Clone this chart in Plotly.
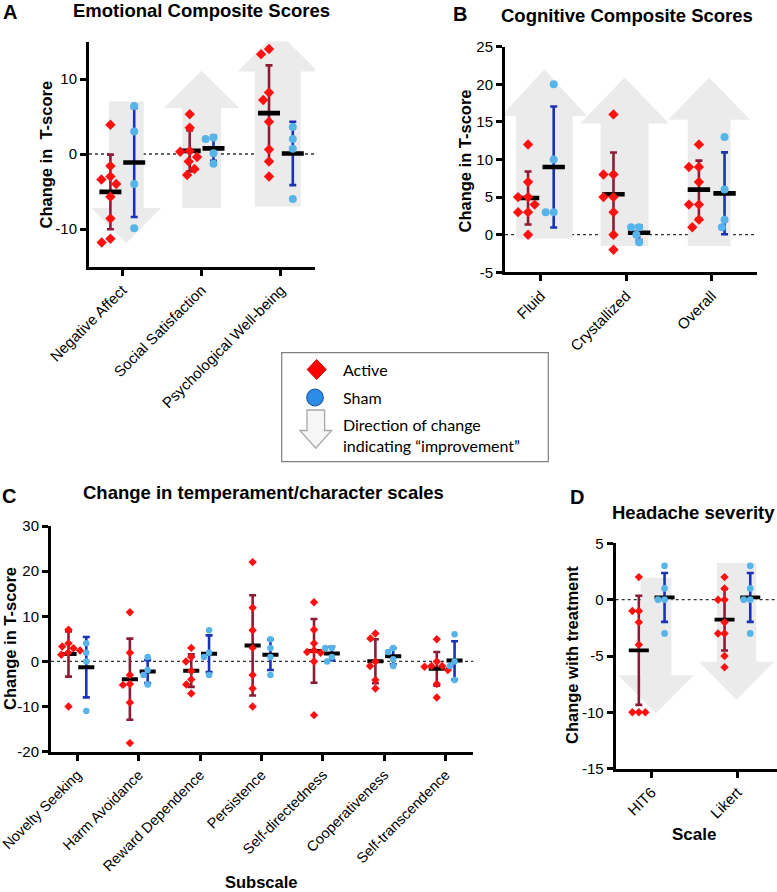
import math
import numpy as np
import plotly.graph_objects as go

W, H = 777, 892

# ---------------- data ----------------
cats_A = ["Negative Affect", "Social Satisfaction", "Psychological Well-being"]
active_A = [
    [3.9, -1.6, -3.0, -3.4, -4.0, -5.7, -8.6, -11.3, -11.8],
    [5.3, 3.5, 0.4, 0.3, -0.4, -1.0, -2.0, -2.8],
    [14.0, 13.3, 8.2, 7.2, 4.3, 0.6, -1.0, -3.0],
]
sham_A = [
    [6.4, 3.0, -4.0, -9.9],
    [2.2, 2.0, 0.1, -1.3],
    [3.6, 2.0, 0.7, -6.0],
]
yticks_A = [-10, 0, 10]
yticklabels_A = ["-10", "0", "10"]

cats_B = ["Fluid", "Crystallized", "Overall"]
active_B = [
    [12, 7, 5, 5, 4, 3, 3, 0],
    [16, 8, 8, 5, 5, 3, 0, -2],
    [12, 9, 9, 7, 4, 4, 2, 1],
]
sham_B = [
    [20, 10, 3, 3],
    [1, 1, 0, -1],
    [13, 6, 2, 1],
]
yticks_B = [-5, 0, 5, 10, 15, 20, 25]
yticklabels_B = ["-5", "0", "5", "10", "15", "20", "25"]

cats_C = ["Novelty Seeking", "Harm Avoidance", "Reward Dependence", "Persistence",
          "Self-directedness", "Cooperativeness", "Self-transcendence"]
active_C = [
    [7.0, 4.0, 3.3, 2.9, 2.4, 1.9, 1.5, -10.0],
    [10.9, 1.9, -3.0, -5.0, -5.2, -9.1, -18.1],
    [3.0, 1.0, 0.0, -2.1, -4.0, -5.1, -7.1],
    [22.0, 11.9, 6.9, 3.0, -3.0, -6.0, -10.0],
    [13.1, 7.0, 4.0, 2.4, 2.1, 1.9, 0.0, -11.9],
    [6.2, 5.1, 0.0, -1.0, -4.1, -6.0],
    [4.9, 0.0, -1.0, -1.0, -1.2, -1.9, -5.0, -8.0],
]
sham_C = [
    [4.0, 1.9, 0.0, -11.0],
    [1.0, -1.9, -3.0, -5.1],
    [6.9, 1.9, 1.0, -3.0],
    [4.9, 3.0, 1.0, -3.0],
    [3.0, 3.0, 1.0, 0.0],
    [3.0, 2.1, 0.5, -1.0],
    [6.0, 0.0, -1.0, -4.1],
]
yticks_C = [-20, -10, 0, 10, 20, 30]
yticklabels_C = ["-20", "-10", "0", "10", "20", "30"]

cats_D = ["HIT6", "Likert"]
active_D = [
    [2, -1, -1, -2, -4, -10, -10, -10],
    [2, 1, 0, 0, -2, -3, -3, -5, -6],
]
sham_D = [
    [3, 1, 0, 0, -3],
    [3, 1, 0, 0, -3],
]
yticks_D = [-15, -10, -5, 0, 5]
yticklabels_D = ["-15", "-10", "-5", "0", "5"]

# ---------------- styling ----------------
FONT = "Liberation Sans, Arial, sans-serif"
RED = "#ff1010"
RED_ERR = "#8e1b36"
BLUE = "#56b4e9"
BLUE_ERR = "#1a33b5"
ARROW = "#ebebeb"

# arrow decorations: (category index, centre offset, shaft half-width, head half-width, tail, head base, tip)
arrows_A = [(0, 0.05, 0.22, 0.44, 7.0, -7.2, -11.9),
            (1, 0.0, 0.245, 0.48, -7.2, 6.1, 11.1),
            (2, -0.04, 0.29, 0.51, -7.0, 11.0, 16.3)]
arrows_B = [(0, 0.04, 0.33, 0.5, -0.5, 15.8, 22.0),
            (1, -0.02, 0.28, 0.52, -1.5, 14.8, 20.9),
            (2, -0.03, 0.25, 0.48, -1.5, 15.3, 20.9)]
arrows_D = [(0, 0.05, 0.18, 0.44, 1.95, -6.7, -10.1),
            (1, -0.01, 0.23, 0.44, 3.25, -5.5, -8.9)]

panels = [
    dict(cats=cats_A, act=active_A, sh=sham_A, xpx=(89, 315), ypx=(41.5, 266.5),
         xr=(-0.42, 2.43), yr=(-15, 15), tv=yticks_A, tt=yticklabels_A, xfs=15,
         dsz=8, csz=8, bar=15.7, barw=4.6, off=0.15, arrows=arrows_A, dA=9.5, dS=8),
    dict(cats=cats_B, act=active_B, sh=sham_B, xpx=(505, 757), ypx=(46.7, 272.3),
         xr=(-0.42, 2.53), yr=(-5, 25), tv=yticks_B, tt=yticklabels_B, xfs=15,
         dsz=8, csz=8, bar=16, barw=4.6, off=0.15, arrows=arrows_B, dA=10, dS=8),
    dict(cats=cats_C, act=active_C, sh=sham_C, xpx=(51, 473.3), ypx=(526, 751.7),
         xr=(-0.43, 6.45), yr=(-20, 30), tv=yticks_C, tt=yticklabels_C, xfs=14.5,
         dsz=6.5, csz=6.5, bar=11.5, barw=4, off=0.145, arrows=[], dA=7, dS=6.5),
    dict(cats=cats_D, act=active_D, sh=sham_D, xpx=(615.7, 777), ypx=(543.3, 768.7),
         xr=(-0.42, 1.462), yr=(-15, 5), tv=yticks_D, tt=yticklabels_D, xfs=15,
         dsz=6.5, csz=6.7, bar=14.3, barw=3.8, off=0.15, arrows=arrows_D, dA=6.5, dS=6.5),
]


def swarm(vals, d, sx, sy):
    """Beeswarm x-offsets (data units) so markers of pixel diameter d don't overlap."""
    placed = []
    offs = [0.0] * len(vals)
    order = sorted(range(len(vals)), key=lambda i: -vals[i])
    for i in order:
        y = vals[i] * sy
        cands = [0.0]
        for px, py in placed:
            dy = abs(py - y)
            if dy < d:
                dx = math.sqrt(d * d - dy * dy)
                cands += [px + dx, px - dx]
        cands.sort(key=lambda c: (round(abs(c), 6), c))
        for c in cands:
            if all((c - px) ** 2 + (y - py) ** 2 >= d * d - 1e-6 for px, py in placed):
                offs[i] = c / sx
                placed.append((c, y))
                break
    return offs


fig = go.Figure()
shapes = []
annotations = []
layout_axes = {}

for k, p in enumerate(panels, start=1):
    xa = "x" if k == 1 else f"x{k}"
    ya = "y" if k == 1 else f"y{k}"
    sx = (p["xpx"][1] - p["xpx"][0]) / (p["xr"][1] - p["xr"][0])
    sy = (p["ypx"][1] - p["ypx"][0]) / (p["yr"][1] - p["yr"][0])
    n = len(p["cats"])

    # arrows (decoration)
    for (ci, co, sw, hw, y0, yh, tip) in p["arrows"]:
        c = ci + co
        path = (f"M{c - sw},{y0} L{c - sw},{yh} L{c - hw},{yh} L{c},{tip} "
                f"L{c + hw},{yh} L{c + sw},{yh} L{c + sw},{y0} Z")
        shapes.append(dict(type="path", path=path, xref=xa, yref=ya, layer="below",
                           fillcolor=ARROW, line=dict(width=0)))
    # dotted zero line
    shapes.append(dict(type="line", xref=f"{xa} domain", yref=ya, x0=0, x1=1, y0=0, y1=0,
                       layer="below", line=dict(color="#333333", width=1.3, dash="dot")))

    groups = [(p["act"], -p["off"], RED_ERR, RED, "diamond", p["dsz"], p["dA"]),
              (p["sh"], p["off"], BLUE_ERR, BLUE, "circle", p["csz"], p["dS"])]

    # error bars (SD) + mean bars
    for vals, off, ecol, mcol, sym, msz, dd in groups:
        xs = [i + off for i in range(n)]
        means = [float(np.mean(v)) for v in vals]
        sds = [float(np.std(v, ddof=1)) for v in vals]
        fig.add_trace(go.Scatter(x=xs, y=means, xaxis=xa, yaxis=ya, mode="markers",
                                 marker=dict(size=1, opacity=0),
                                 error_y=dict(type="data", array=sds, color=ecol,
                                              thickness=2.6, width=3.5),
                                 showlegend=False, hoverinfo="skip"))
    for vals, off, ecol, mcol, sym, msz, dd in groups:
        xs = [i + off for i in range(n)]
        means = [float(np.mean(v)) for v in vals]
        fig.add_trace(go.Scatter(x=xs, y=means, xaxis=xa, yaxis=ya, mode="markers",
                                 marker=dict(symbol="line-ew", size=p["bar"],
                                             line=dict(width=p["barw"], color="black")),
                                 showlegend=False, hoverinfo="skip"))
    # individual points
    for vals, off, ecol, mcol, sym, msz, dd in groups:
        px, py = [], []
        for i, v in enumerate(vals):
            o = swarm(v, dd, sx, sy)
            px += [i + off + oo for oo in o]
            py += list(v)
        fig.add_trace(go.Scatter(x=px, y=py, xaxis=xa, yaxis=ya, mode="markers",
                                 marker=dict(symbol=sym, size=msz, color=mcol,
                                             line=dict(width=0)),
                                 showlegend=False))

    ax_common = dict(showline=True, linewidth=3, linecolor="black", ticks="outside",
                     ticklen=6, tickwidth=3, tickcolor="black", showgrid=False,
                     zeroline=False, automargin=False, ticklabeloverflow="allow")
    layout_axes["xaxis" if k == 1 else f"xaxis{k}"] = dict(
        ax_common, domain=[p["xpx"][0] / W, p["xpx"][1] / W], range=list(p["xr"]),
        tickmode="array", tickvals=list(range(n)), ticktext=p["cats"], tickangle=-45,
        tickfont=dict(family=FONT, size=p["xfs"], color="black"), anchor=ya)
    layout_axes["yaxis" if k == 1 else f"yaxis{k}"] = dict(
        ax_common, domain=[1 - p["ypx"][1] / H, 1 - p["ypx"][0] / H], range=list(p["yr"]),
        tickmode="array", tickvals=p["tv"], ticktext=p["tt"],
        tickfont=dict(family=FONT, size=15, color="black"), anchor=xa)


def ann(text, x, y, size, bold=False, angle=0, xanchor="center", family=FONT):
    annotations.append(dict(text=f"<b>{text}</b>" if bold else text, x=x / W, y=1 - y / H,
                            xref="paper", yref="paper", showarrow=False, xanchor=xanchor,
                            yanchor="middle", textangle=angle,
                            font=dict(family=family, size=size, color="black")))


# panel letters and titles
ann("A", 10, 12.5, 20, bold=True)
ann("Emotional Composite Scores", 201.7, 10.5, 18.5, bold=True)
ann("B", 460, 13.5, 20, bold=True)
ann("Cognitive Composite Scores", 626.7, 15.5, 18.5, bold=True)
ann("C", 9, 496, 20, bold=True)
ann("Change in temperament/character scales", 263, 492, 18.5, bold=True)
ann("D", 577, 497, 20, bold=True)
ann("Headache severity", 693, 512.5, 18.5, bold=True)

# axis titles
ann("Change in\u00a0 T-score", 45.5, 155, 16.5, bold=True, angle=-90)
ann("Change in T-score", 464.5, 161, 16.5, bold=True, angle=-90)
ann("Change in T-score", 10, 639, 16.5, bold=True, angle=-90)
ann("Change with treatment", 572, 655, 16.5, bold=True, angle=-90)
ann("Subscale", 261, 882, 16.5, bold=True)
ann("Scale", 694, 834, 17, bold=True)


# legend box (paper coords)
def P(x, y):
    return x / W, 1 - y / H


bx0, by0 = P(281.7, 352.7)
bx1, by1 = P(548.3, 461.7)
shapes.append(dict(type="rect", xref="paper", yref="paper", x0=bx0, y0=by1, x1=bx1, y1=by0,
                   line=dict(color="#808080", width=1.2), fillcolor="white", layer="above"))
cx, cy = 316.7, 369.5
pts = [P(cx, cy - 10), P(cx + 9.5, cy), P(cx, cy + 10), P(cx - 9.5, cy)]
shapes.append(dict(type="path", xref="paper", yref="paper", layer="above",
                   path="M" + " L".join(f"{a},{b}" for a, b in pts) + " Z",
                   fillcolor="#ff0000", line=dict(color="#d00000", width=1)))
c0 = P(315 - 8.3, 397.5 - 8.3)
c1 = P(315 + 8.3, 397.5 + 8.3)
shapes.append(dict(type="circle", xref="paper", yref="paper", layer="above",
                   x0=c0[0], y0=c1[1], x1=c1[0], y1=c0[1],
                   fillcolor="#2d8ce8", line=dict(color="#1d5fae", width=1.2)))
ap = [P(307, 410), P(307, 430.5), P(300, 430.5), P(315.8, 448.3), P(331.6, 430.5),
      P(324.6, 430.5), P(324.6, 410)]
shapes.append(dict(type="path", xref="paper", yref="paper", layer="above",
                   path="M" + " L".join(f"{a},{b}" for a, b in ap) + " Z",
                   fillcolor="#f6f6f6", line=dict(color="#a8a8a8", width=1.3)))
LEG = "Lato, Calibri, sans-serif"
ann("Active", 340.7, 369.3, 16, xanchor="left", family=LEG)
ann("Sham", 340.7, 397.3, 16, xanchor="left", family=LEG)
ann("Direction of change", 340.7, 424, 16, xanchor="left", family=LEG)
ann("indicating \u201cimprovement\u201d", 340.7, 445.7, 16, xanchor="left", family=LEG)

fig.update_layout(
    template="none",
    width=W, height=H, margin=dict(l=0, r=0, t=0, b=0, autoexpand=False),
    paper_bgcolor="white", plot_bgcolor="white", showlegend=False,
    shapes=shapes, annotations=annotations,
    font=dict(family=FONT, color="black"),
    **layout_axes,
)

fig.write_html("out.html",
               config={"displayModeBar": False, "staticPlot": True},
               post_script="document.body.style.margin='0';"
                           "document.body.style.overflow='hidden';")
